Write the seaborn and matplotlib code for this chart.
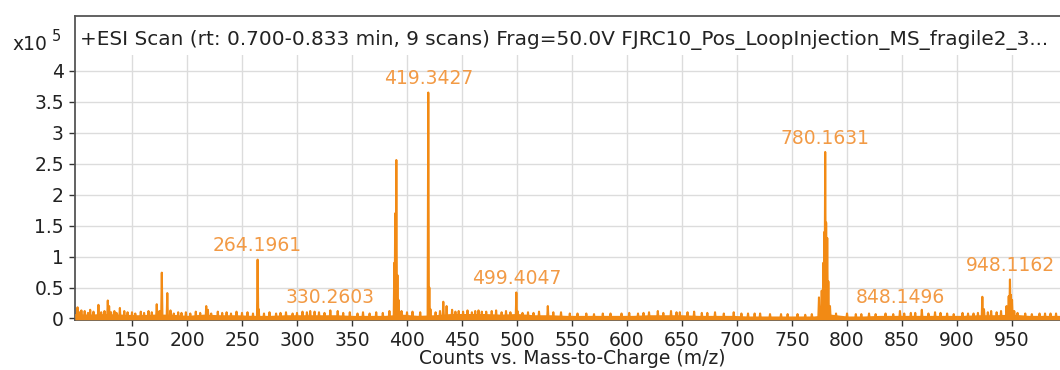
import matplotlib
matplotlib.use("Agg")
import matplotlib.pyplot as plt
import pandas as pd
import seaborn as sns
from matplotlib.patches import Rectangle

# ---------------- data ----------------
peak_mz = [100.5, 107, 112, 119.5, 128, 129.2, 134, 139, 143, 150, 158, 165, 172.5, 177.1,
           182.1, 185, 192, 199, 208, 217.5, 219, 228, 236, 245, 255, 264.2, 265.2, 275,
           290, 305, 312, 320, 330.3, 337, 348, 360, 372, 384, 388.5, 389.3, 390.3, 391.3,
           392.3, 405, 412, 419.34, 420.3, 421.3, 433, 436, 441, 447, 455, 465, 472, 477,
           481, 490, 499.4, 500.4, 510, 520, 528, 540, 563, 585, 602, 620, 628, 640, 648,
           655, 661, 680, 697, 710, 721, 740, 755, 774.5, 777, 778.5, 779.5, 780.16, 781,
           782, 783, 784.5, 800, 820, 835, 848.1, 858, 868, 880, 891, 905, 915, 923, 924.5,
           931, 936, 940, 945, 947, 948.1, 949, 950, 952, 962, 975, 985]
peak_int = [0.18, 0.12, 0.14, 0.22, 0.29, 0.20, 0.12, 0.17, 0.12, 0.10, 0.11, 0.12, 0.23, 0.74,
            0.41, 0.13, 0.10, 0.10, 0.11, 0.20, 0.14, 0.11, 0.10, 0.11, 0.10, 0.95, 0.15, 0.10,
            0.10, 0.11, 0.12, 0.10, 0.13, 0.12, 0.10, 0.10, 0.10, 0.12, 0.90, 1.70, 2.56, 0.70,
            0.30, 0.11, 0.10, 3.65, 0.50, 0.15, 0.27, 0.20, 0.14, 0.12, 0.13, 0.13, 0.11, 0.12,
            0.13, 0.12, 0.42, 0.12, 0.10, 0.11, 0.20, 0.10, 0.08, 0.08, 0.09, 0.10, 0.12, 0.12,
            0.10, 0.10, 0.11, 0.10, 0.10, 0.08, 0.08, 0.07, 0.07, 0.34, 0.45, 0.90, 1.40, 2.69,
            1.55, 1.30, 0.60, 0.20, 0.08, 0.08, 0.08, 0.12, 0.09, 0.14, 0.10, 0.08, 0.09, 0.08,
            0.35, 0.15, 0.12, 0.10, 0.12, 0.20, 0.36, 0.63, 0.38, 0.30, 0.12, 0.08, 0.08, 0.08]

# small noise spikes along the baseline
minor_mz = [102, 104, 110, 115, 122, 125, 131, 136, 146, 153, 161, 168, 175, 188, 195, 203,
            212, 222, 232, 240, 250, 260, 270, 281, 285, 296, 300, 309, 316, 325, 342, 355,
            366, 378, 395, 400, 426, 430, 444, 451, 459, 462, 468, 486, 494, 505, 515, 533,
            548, 555, 570, 578, 595, 610, 615, 633, 645, 668, 673, 688, 704, 716, 730, 746,
            762, 768, 790, 808, 813, 826, 842, 852, 862, 874, 885, 897, 910, 919, 928, 955,
            968, 980, 990]
minor_int = [0.10, 0.13, 0.09, 0.11, 0.10, 0.12, 0.10, 0.09, 0.10, 0.08, 0.09, 0.10, 0.12, 0.08,
             0.09, 0.08, 0.09, 0.08, 0.09, 0.08, 0.09, 0.08, 0.08, 0.08, 0.09, 0.08, 0.09, 0.10,
             0.11, 0.09, 0.09, 0.08, 0.08, 0.09, 0.12, 0.10, 0.10, 0.12, 0.11, 0.11, 0.10, 0.12,
             0.11, 0.10, 0.10, 0.09, 0.09, 0.10, 0.08, 0.08, 0.07, 0.08, 0.08, 0.08, 0.09, 0.09,
             0.10, 0.09, 0.09, 0.08, 0.08, 0.08, 0.07, 0.07, 0.06, 0.07, 0.08, 0.07, 0.07, 0.07,
             0.07, 0.08, 0.09, 0.08, 0.09, 0.07, 0.08, 0.09, 0.10, 0.09, 0.07, 0.08, 0.08]

noise_mz = [98, 110, 125, 140, 155, 170, 185, 200, 215, 230, 245, 260, 275, 290, 305, 320,
            335, 350, 365, 380, 395, 410, 425, 440, 455, 470, 485, 500, 515, 530, 545, 560,
            575, 590, 605, 620, 635, 650, 665, 680, 695, 710, 725, 740, 755, 770, 785, 800,
            815, 830, 845, 860, 875, 890, 905, 920, 935, 950, 965, 980, 994]
noise_top = [0.08, 0.07, 0.08, 0.07, 0.06, 0.07, 0.07, 0.05, 0.07, 0.06, 0.06, 0.05, 0.05, 0.06,
             0.06, 0.06, 0.06, 0.05, 0.05, 0.05, 0.07, 0.05, 0.06, 0.08, 0.08, 0.08, 0.07, 0.08,
             0.06, 0.06, 0.05, 0.05, 0.05, 0.05, 0.05, 0.06, 0.06, 0.06, 0.05, 0.05, 0.05, 0.04,
             0.04, 0.04, 0.04, 0.04, 0.07, 0.04, 0.04, 0.05, 0.05, 0.05, 0.05, 0.05, 0.05, 0.06,
             0.06, 0.07, 0.05, 0.05, 0.05]

label_mz = [264.1961, 330.2603, 419.3427, 499.4047, 780.1631, 848.1496, 948.1162]
label_int = [0.95, 0.12, 3.65, 0.42, 2.69, 0.11, 0.63]
label_txt = ["264.1961", "330.2603", "419.3427", "499.4047", "780.1631", "848.1496", "948.1162"]

x_ticks = [150, 200, 250, 300, 350, 400, 450, 500, 550, 600, 650, 700, 750, 800, 850, 900, 950]
y_ticks = [0, 0.5, 1, 1.5, 2, 2.5, 3, 3.5, 4]
y_tick_labels = ["0", "0.5", "1", "1.5", "2", "2.5", "3", "3.5", "4"]

title_txt = "+ESI Scan (rt: 0.700-0.833 min, 9 scans) Frag=50.0V FJRC10_Pos_LoopInjection_MS_fragile2_3..."
x_label = "Counts vs. Mass-to-Charge (m/z)"

# ---------------- style ----------------
LINE_C = "#F28A14"
TEXT_C = "#F29A45"
sns.set_theme(style="whitegrid")
plt.rcParams["font.family"] = ["DejaVu Sans"]

W, H = 1060, 370
fig = plt.figure(figsize=(W / 100, H / 100), dpi=100)
fig.patch.set_facecolor("white")
ax = fig.add_axes([75 / W, 50 / H, 985 / W, 304 / H])
ax.set_facecolor("white")

# profile line built from the peak lists
half = 0.6
all_peaks = sorted(zip(peak_mz + minor_mz, peak_int + minor_int))
xs, ys = [], []
for m, h in all_peaks:
    xs += [m - half, m, m + half]
    ys += [0.0, h, 0.0]
df = pd.DataFrame({"mz": xs, "counts": ys})
sns.lineplot(data=df, x="mz", y="counts", sort=False, estimator=None,
             color=LINE_C, lw=1.5, ax=ax, zorder=3)

ax.fill_between(noise_mz, -0.02, noise_top, color=LINE_C, lw=0, zorder=3)

for m, h, t in zip(label_mz, label_int, label_txt):
    ax.annotate(t, (m, h), xytext=(0, 3), textcoords="offset points",
                ha="center", va="bottom", color=TEXT_C, fontsize=13.5, zorder=4)

ax.set_xlim(98.2, 993.6)
ax.set_ylim(-0.025, 4.887)
ax.set_xticks(x_ticks)
ax.set_yticks(y_ticks)
ax.set_yticklabels(y_tick_labels)
ax.grid(True, color="#DCDCDC", lw=1.0)
ax.tick_params(axis="both", which="major", labelsize=13.5, colors="#222222",
               length=4, width=1.0, direction="out")
ax.tick_params(axis="x", pad=4)
ax.tick_params(axis="y", pad=4)
ax.tick_params(left=True, bottom=True)
ax.xaxis.set_tick_params(color="#333333")
ax.yaxis.set_tick_params(color="#333333")

for s in ["left", "top", "bottom"]:
    ax.spines[s].set_visible(True)
    ax.spines[s].set_color("#555555")
    ax.spines[s].set_linewidth(1.3)
ax.spines["right"].set_visible(False)

ax.set_xlabel(x_label, fontsize=13.5, color="#222222")
ax.xaxis.label.set_va("baseline")
ax.xaxis.set_label_coords(0.505, -0.145)
ax.set_ylabel("")

# white band behind the title
ax.add_patch(Rectangle((0, 0.872), 1, 0.128, transform=ax.transAxes,
                       facecolor="white", edgecolor="none", zorder=1))
ax.text(0.005, 0.905, title_txt, transform=ax.transAxes, fontsize=14.4,
        color="#222222", ha="left", va="baseline", zorder=5)

fig.text(12 / W, 1 - 50 / H, "x10", fontsize=13.5, color="#222222", va="baseline")
fig.text(52 / W, 1 - 41 / H, "5", fontsize=10.5, color="#222222", va="baseline")

fig.savefig("out.png", dpi=100, facecolor="white")
